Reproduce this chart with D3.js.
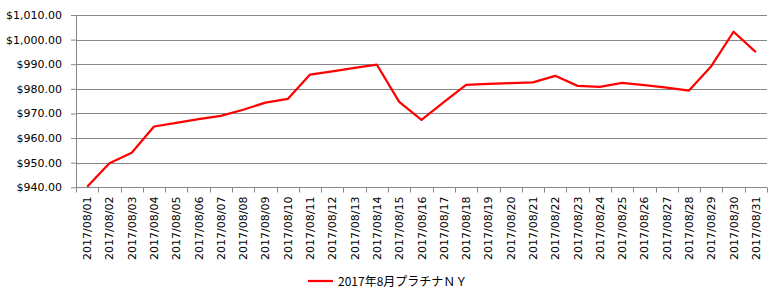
<!DOCTYPE html>
<html>
<head>
<meta charset="utf-8">
<script src="https://cdn.jsdelivr.net/npm/d3@7"></script>
<style>
  body { margin: 0; background: #fff; }
  #wrapper { width: 782px; height: 302px; }
</style>
</head>
<body>
<div id="wrapper"></div>
<script>
// daily values
const dates = ["2017/08/01","2017/08/02","2017/08/03","2017/08/04","2017/08/05","2017/08/06","2017/08/07","2017/08/08","2017/08/09","2017/08/10",
  "2017/08/11","2017/08/12","2017/08/13","2017/08/14","2017/08/15","2017/08/16","2017/08/17","2017/08/18","2017/08/19","2017/08/20",
  "2017/08/21","2017/08/22","2017/08/23","2017/08/24","2017/08/25","2017/08/26","2017/08/27","2017/08/28","2017/08/29","2017/08/30","2017/08/31"]
const prices = [940.2, 949.8, 954.0, 964.7, 966.2, 967.7, 969.0, 971.5, 974.4, 975.9,
  985.8, 987.1, 988.5, 989.8, 974.7, 967.4, 974.6, 981.6, 982.0, 982.3,
  982.6, 985.3, 981.2, 980.8, 982.4, 981.5, 980.5, 979.3, 989.2, 1003.2, 994.9]
const yTicks = [940, 950, 960, 970, 980, 990, 1000, 1010]
const seriesName = "2017年8月プラチナＮＹ"

function drawLineChart(){
    let dimensions = {
        width: 782,
        height: 302,
        margin: { top: 15, right: 15, bottom: 115, left: 76 },
    }
    dimensions.boundedWidth = 767 - dimensions.margin.left
    dimensions.boundedHeight = 187.3 - dimensions.margin.top

    const wrapper = d3.select("#wrapper").append("svg")
        .attr("width", dimensions.width)
        .attr("height", dimensions.height)
        .style("font-family", "'DejaVu Sans', Verdana, sans-serif")

    const bounds = wrapper.append("g")
        .attr("transform", `translate(${dimensions.margin.left},${dimensions.margin.top})`)

    const yScale = d3.scaleLinear()
        .domain([940, 1010])
        .range([dimensions.boundedHeight, 0])

    const xScale = d3.scaleBand()
        .domain(dates)
        .range([0, dimensions.boundedWidth])

    // gridlines
    bounds.append("g")
        .selectAll("line")
        .data(yTicks.slice(1))
        .join("line")
        .attr("x1", 0)
        .attr("x2", dimensions.boundedWidth)
        .attr("y1", d => Math.round(yScale(d)) + 0.5)
        .attr("y2", d => Math.round(yScale(d)) + 0.5)
        .attr("stroke", "#868686")

    // y axis
    const yAxisGenerator = d3.axisLeft(yScale)
        .tickValues(yTicks)
        .tickSize(5)
        .tickPadding(9)
        .tickFormat(d => "$" + d3.format(",.2f")(d))
    const yAxis = bounds.append("g").call(yAxisGenerator)
    yAxis.select(".domain").attr("stroke", "#868686").attr("d", `M-5,0.5H0.5V${dimensions.boundedHeight}`)
    yAxis.selectAll(".tick line").attr("stroke", "#868686")
    yAxis.selectAll(".tick text").attr("font-size", 11).attr("fill", "#000").attr("font-family", "'DejaVu Sans', Verdana, sans-serif")

    // x axis (category boundaries as ticks)
    const xAxis = bounds.append("g")
        .attr("transform", `translate(0,${Math.round(dimensions.boundedHeight) + 0.5})`)
    xAxis.append("line")
        .attr("x1", 0).attr("x2", dimensions.boundedWidth)
        .attr("stroke", "#868686")
    xAxis.selectAll(".xtick")
        .data(d3.range(dates.length + 1))
        .join("line")
        .attr("class", "xtick")
        .attr("x1", i => Math.round(i * xScale.step()) + 0.5)
        .attr("x2", i => Math.round(i * xScale.step()) + 0.5)
        .attr("y1", 0).attr("y2", 5)
        .attr("stroke", "#868686")
    xAxis.selectAll(".xlabel")
        .data(dates)
        .join("text")
        .attr("class", "xlabel")
        .attr("transform", d => `translate(${xScale(d) + xScale.bandwidth() / 2 + 4},9) rotate(-90)`)
        .attr("text-anchor", "end")
        .attr("font-size", 11)
        .attr("fill", "#000")
        .text(d => d)

    // line
    const lineGenerator = d3.line()
        .x(d => xScale(d.date) + xScale.bandwidth() / 2)
        .y(d => yScale(d.value))
    bounds.append("path")
        .attr("d", lineGenerator(dates.map((d, i) => ({ date: d, value: prices[i] }))))
        .attr("fill", "none")
        .attr("stroke", "#FF0000")
        .attr("stroke-width", 2.25)
        .attr("stroke-linejoin", "round")

    // legend
    const legend = wrapper.append("g").attr("transform", "translate(308,281)")
    legend.append("line")
        .attr("x1", 0).attr("x2", 25)
        .attr("stroke", "#FF0000")
        .attr("stroke-width", 2.25)
    legend.append("text")
        .attr("x", 30).attr("y", 4.5)
        .attr("font-size", 12)
        .attr("font-family", "'Noto Sans CJK JP', sans-serif")
        .attr("fill", "#000")
        .text(seriesName)
}

drawLineChart()
</script>
</body>
</html>
